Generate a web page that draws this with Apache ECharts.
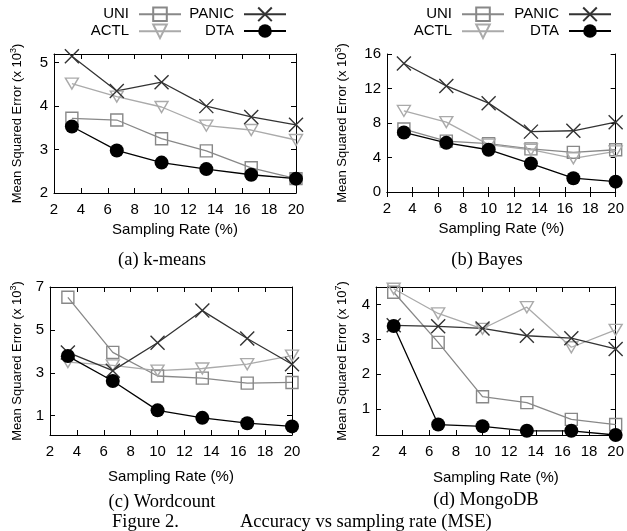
<!DOCTYPE html>
<html>
<head>
<meta charset="utf-8">
<title>Accuracy vs sampling rate (MSE)</title>
<script src="https://cdn.jsdelivr.net/npm/echarts@6/dist/echarts.min.js"></script>
<style>
    html, body { margin: 0; padding: 0; background: #fff; }
    #chart { width: 627px; height: 531px; }
</style>
</head>
<body>
<div id="chart"></div>
<script>
    // sampling rates (%)
    var rates = [3.33, 6.67, 10, 13.33, 16.67, 20];

    // (a) k-means, x 10^3
    var kmeansUNI = [3.72, 3.68, 3.25, 2.97, 2.58, 2.33];
    var kmeansACTL = [4.52, 4.22, 3.98, 3.55, 3.45, 3.22];
    var kmeansPANIC = [5.15, 4.35, 4.55, 4.0, 3.75, 3.57];
    var kmeansDTA = [3.53, 2.98, 2.70, 2.55, 2.42, 2.33];

    // (b) Bayes, x 10^3
    var bayesUNI = [7.3, 5.9, 5.6, 5.0, 4.6, 4.9];
    var bayesACTL = [9.4, 8.1, 5.5, 4.9, 3.9, 4.7];
    var bayesPANIC = [14.9, 12.3, 10.3, 7.0, 7.1, 8.1];
    var bayesDTA = [6.9, 5.7, 4.9, 3.3, 1.6, 1.2];

    // (c) Wordcount, x 10^3
    var wordUNI = [6.52, 3.95, 2.85, 2.75, 2.52, 2.55];
    var wordACTL = [3.5, 3.35, 3.1, 3.2, 3.4, 3.8];
    var wordPANIC = [3.95, 3.1, 4.4, 5.9, 4.6, 3.4];
    var wordDTA = [3.78, 2.62, 1.25, 0.9, 0.65, 0.5];

    // (d) MongoDB, x 10^7
    var mongoUNI = [4.35, 2.91, 1.35, 1.18, 0.7, 0.55];
    var mongoACTL = [4.45, 3.74, 3.3, 3.92, 2.77, 3.27];
    var mongoPANIC = [3.4, 3.37, 3.31, 3.1, 3.03, 2.72];
    var mongoDTA = [3.38, 0.55, 0.5, 0.37, 0.37, 0.25];

    var wordYTicks = [1, 3, 5, 7];
    var mongoYTicks = [1, 2, 3, 4];

    var SANS = 'Liberation Sans, Arial, Helvetica, sans-serif';
    var SERIF = 'Liberation Serif, Times New Roman, serif';

    // small deep-merge helper
    var merge = function (target) {
        for (var a = 1; a < arguments.length; a++) {
            var src = arguments[a];
            for (var k in src) {
                if (src[k] && typeof src[k] === 'object' && !Array.isArray(src[k])) {
                    target[k] = merge(target[k] || {}, src[k]);
                } else {
                    target[k] = src[k];
                }
            }
        }
        return target;
    };

    var styles = {
        UNI: { symbol: 'rect', size: 12, line: '#888888' },
        ACTL: { symbol: 'path://M0,0 L12,0 L6,11 Z', size: [13, 11], line: '#aaaaaa' },
        PANIC: { symbol: 'path://M0,0 L10,10 M10,0 L0,10', size: 14, line: '#333333' },
        DTA: { symbol: 'circle', size: 14, line: '#000000' }
    };

    var grids = [
        { left: 54, top: 54, width: 242, height: 139 },
        { left: 387, top: 54, width: 233, height: 138 },
        { left: 50, top: 287, width: 242, height: 148 },
        { left: 376, top: 287, width: 241, height: 148 }
    ];

    var panels = [
        { series: { UNI: kmeansUNI, ACTL: kmeansACTL, PANIC: kmeansPANIC, DTA: kmeansDTA },
          ymin: 2, ymax: 5.2, interval: 1, exp: '3', yGap: 29, xGap: 29 },
        { series: { UNI: bayesUNI, ACTL: bayesACTL, PANIC: bayesPANIC, DTA: bayesDTA },
          ymin: 0, ymax: 16, interval: 4, exp: '3', yGap: 37, xGap: 29 },
        { series: { UNI: wordUNI, ACTL: wordACTL, PANIC: wordPANIC, DTA: wordDTA },
          ymin: 0.1, ymax: 7, ticks: wordYTicks, exp: '3', yGap: 25, xGap: 34 },
        { series: { UNI: mongoUNI, ACTL: mongoACTL, PANIC: mongoPANIC, DTA: mongoDTA },
          ymin: 0.25, ymax: 4.5, ticks: mongoYTicks, exp: '7', yGap: 26, xGap: 35 }
    ];

    var toPoints = function (values) {
        var pts = [];
        for (var i = 0; i < values.length; i++) {
            pts.push([rates[i], values[i]]);
        }
        return pts;
    };

    var axisLine = { show: true, lineStyle: { color: '#000', width: 1 } };
    var tick = { show: true, inside: true, length: 5, lineStyle: { color: '#000' } };

    var xAxes = [], yAxes = [], series = [];
    panels.forEach(function (p, i) {
        xAxes.push({
            type: 'value', gridIndex: i, min: 2, max: 20, interval: 2,
            position: 'bottom',
            name: 'Sampling Rate (%)', nameLocation: 'middle', nameGap: p.xGap,
            nameTextStyle: { fontFamily: SANS, fontSize: 15, color: '#000' },
            axisLine: axisLine, axisTick: tick, splitLine: { show: false },
            axisLabel: { fontFamily: SANS, fontSize: 15, color: '#000', margin: 9 }
        });
        xAxes.push({
            type: 'value', gridIndex: i, min: 2, max: 20, interval: 2,
            position: 'top', axisLine: axisLine, axisTick: tick,
            splitLine: { show: false }, axisLabel: { show: false }
        });

        var yLabel = { fontFamily: SANS, fontSize: 15, color: '#000', margin: 6 };
        var y = {
            type: 'value', gridIndex: i, min: p.ymin, max: p.ymax,
            position: 'left',
            name: 'Mean Squared Error (x 10{sup|' + p.exp + '})',
            nameLocation: 'middle', nameGap: p.yGap,
            nameTextStyle: {
                fontFamily: SANS, fontSize: 13, color: '#000',
                rich: { sup: { fontFamily: SANS, fontSize: 9, color: '#000', verticalAlign: 'top', padding: [0, 0, 7, 0] } }
            },
            axisLine: axisLine, axisTick: merge({}, tick), splitLine: { show: false },
            axisLabel: yLabel
        };
        var yr = {
            type: 'value', gridIndex: i, min: p.ymin, max: p.ymax,
            position: 'right', axisLine: axisLine, axisTick: merge({}, tick),
            splitLine: { show: false }, axisLabel: { show: false }
        };
        if (p.ticks) {
            y.axisTick = merge({}, tick, { customValues: p.ticks });
            y.axisLabel = merge({}, yLabel, { customValues: p.ticks });
            yr.axisTick = merge({}, tick, { customValues: p.ticks });
            yr.axisLabel = { show: false, customValues: p.ticks };
        } else {
            y.interval = p.interval;
            yr.interval = p.interval;
        }
        yAxes.push(y);
        yAxes.push(yr);

        ['UNI', 'ACTL', 'PANIC', 'DTA'].forEach(function (name) {
            var s = styles[name];
            var filled = name === 'DTA';
            series.push({
                name: name, type: 'line',
                xAxisIndex: i * 2, yAxisIndex: i * 2,
                data: toPoints(p.series[name]),
                symbol: s.symbol, symbolSize: s.size,
                showAllSymbol: true, animation: false, clip: false,
                z: filled ? 4 : 3,
                lineStyle: { color: s.line, width: 1.3 },
                itemStyle: {
                    color: filled ? '#000' : 'rgba(255,255,255,0)',
                    borderColor: s.line, borderWidth: filled ? 0 : 1.4
                }
            });
        });
    });

    var legendItem = function (name, right, top) {
        return {
            data: [name], right: right, top: top, padding: 0,
            orient: 'horizontal', align: 'right',
            itemWidth: 42, itemHeight: 17, selectedMode: false,
            textStyle: { fontFamily: SANS, fontSize: 15, color: '#000', padding: [0, 5, 0, 0] }
        };
    };

    var legends = [
        legendItem('UNI', 445, 6.5), legendItem('PANIC', 340, 6.5),
        legendItem('ACTL', 445, 23.5), legendItem('DTA', 340, 23.5),
        legendItem('UNI', 122, 6.5), legendItem('PANIC', 15, 6.5),
        legendItem('ACTL', 122, 23.5), legendItem('DTA', 15, 23.5)
    ];

    var caption = function (text, x, y, size, align) {
        return {
            type: 'text', x: x, y: y,
            style: {
                text: text, fill: '#000', font: size + 'px ' + SERIF,
                textAlign: align || 'center', textVerticalAlign: 'middle'
            }
        };
    };

    var option = {
        backgroundColor: '#fff',
        animation: false,
        grid: grids,
        xAxis: xAxes,
        yAxis: yAxes,
        legend: legends,
        series: series,
        graphic: [
            caption('(a) k-means', 162, 260, 18.5),
            caption('(b) Bayes', 487, 260, 18.5),
            caption('(c) Wordcount', 162, 502, 18.5),
            caption('(d) MongoDB', 486, 500, 18.5),
            caption('Figure 2.', 112, 522, 18.5, 'left'),
            caption('Accuracy vs sampling rate (MSE)', 240, 522, 18.5, 'left')
        ]
    };

    var myChart = echarts.init(document.getElementById('chart'), null, { renderer: 'canvas' });
    myChart.setOption(option);
</script>
</body>
</html>
